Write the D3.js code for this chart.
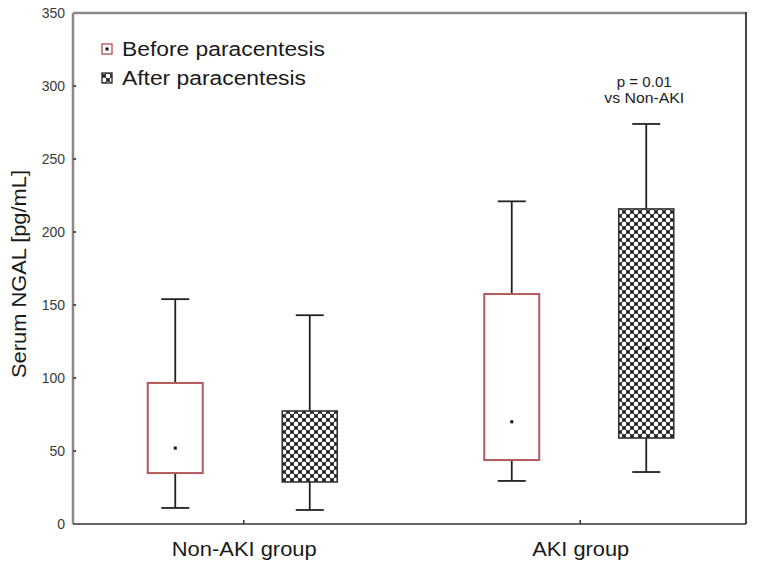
<!DOCTYPE html>
<html>
<head>
<meta charset="utf-8">
<script src="https://cdn.jsdelivr.net/npm/d3@7"></script>
<style>
  html, body { margin: 0; padding: 0; background: #fff; }
  svg { display: block; }
  text { font-family: "Liberation Sans", Arial, sans-serif; }
</style>
</head>
<body>
<svg id="chart" width="760" height="585"></svg>
<script>
// ---- data ----
const groups = ["Non-AKI group", "AKI group"];
const series = ["Before paracentesis", "After paracentesis"];
// [min, q1, median, q3, max]
const nonAkiBefore = [11, 34.9, 52, 96.6, 154];
const nonAkiAfter  = [9.6, 28.8, 46, 77.4, 143];
const akiBefore    = [29.5, 43.8, 70, 157.5, 221];
const akiAfter     = [35.6, 58.9, 120, 215.8, 274];
const yTicks = [0, 50, 100, 150, 200, 250, 300, 350];
const annotation = ["p = 0.01", "vs Non-AKI"];

const boxes = [
  { group: groups[0], series: 0, v: nonAkiBefore },
  { group: groups[0], series: 1, v: nonAkiAfter },
  { group: groups[1], series: 0, v: akiBefore },
  { group: groups[1], series: 1, v: akiAfter }
];

const svg = d3.select("#chart");
const L = 73, R = 746, T = 13, B = 524;

const x = d3.scalePoint().domain(groups).range([L + 2.5, R + 2.5]).padding(0.5);
const y = d3.scaleLinear().domain([0, 350]).range([B, T]);
const off = d3.scaleOrdinal().domain([0, 1]).range([-68.5, 66]);
const boxW = 55, capW = 28;
const redCol = "#b45a5c";
const fontFam = "Liberation Sans, Arial, sans-serif";

// pattern
const defs = svg.append("defs");
const pat = defs.append("pattern").attr("id", "hatch")
  .attr("patternUnits", "userSpaceOnUse").attr("width", 8).attr("height", 8);
pat.append("rect").attr("width", 8).attr("height", 8).attr("fill", "#1a1a1a");
[[0,0],[8,0],[0,8],[8,8],[4,4]].forEach(([cx, cy]) =>
  pat.append("circle").attr("cx", cx).attr("cy", cy).attr("r", 2.4).attr("fill", "#fff"));

// frame
svg.append("line").attr("x1", L).attr("x2", R).attr("y1", T).attr("y2", T)
  .attr("stroke", "#8c8888").attr("stroke-width", 2.5);
svg.append("line").attr("x1", L).attr("x2", L).attr("y1", T).attr("y2", B)
  .attr("stroke", "#8c8888").attr("stroke-width", 2.5);
svg.append("line").attr("x1", R).attr("x2", R).attr("y1", T - 1).attr("y2", B)
  .attr("stroke", "#444").attr("stroke-width", 2);

// y axis
const yAxis = d3.axisLeft(y).tickValues(yTicks).tickSize(0).tickPadding(8);
const gy = svg.append("g").attr("transform", `translate(${L},0)`).call(yAxis);
gy.select(".domain").remove();
gy.selectAll("text").attr("font-size", 14).attr("fill", "#3a3a3a")
  .attr("font-family", fontFam);
svg.selectAll(".ytick").data(yTicks.filter(d => d > 0 && d < 350)).enter()
  .append("line").attr("x1", L).attr("x2", L + 3)
  .attr("y1", d => y(d)).attr("y2", d => y(d))
  .attr("stroke", "#555").attr("stroke-width", 2);

// x axis
const xLabelLen = { "Non-AKI group": 145, "AKI group": 97 };
const xAxis = d3.axisBottom(x).tickSize(0).tickPadding(18);
const gx = svg.append("g").attr("transform", `translate(0,${B})`).call(xAxis);
gx.select(".domain").attr("stroke", "#333").attr("stroke-width", 1.6)
  .attr("d", `M${L},0H${R}`);
gx.selectAll("text").attr("font-size", 20).attr("fill", "#1a1a1a")
  .attr("font-family", fontFam)
  .attr("dy", "0.72em")
  .attr("textLength", d => xLabelLen[d])
  .attr("lengthAdjust", "spacingAndGlyphs");
svg.selectAll(".xtick").data(groups).enter().append("line")
  .attr("x1", d => x(d)).attr("x2", d => x(d)).attr("y1", B).attr("y2", B - 4)
  .attr("stroke", "#333").attr("stroke-width", 1.5);

// y label
svg.append("text")
  .attr("transform", `translate(26,274) rotate(-90)`)
  .attr("text-anchor", "middle").attr("font-size", 20).attr("fill", "#1a1a1a")
  .attr("textLength", 208).attr("lengthAdjust", "spacingAndGlyphs")
  .text("Serum NGAL [pg/mL]");

// boxes
const g = svg.append("g");
boxes.forEach(b => {
  const cx = x(b.group) + off(b.series);
  const [mn, q1, md, q3, mx] = b.v;
  const line = (x1, y1, x2, y2) => g.append("line")
    .attr("x1", x1).attr("x2", x2).attr("y1", y1).attr("y2", y2)
    .attr("stroke", "#222").attr("stroke-width", 1.8);
  line(cx, y(mx), cx, y(q3));
  line(cx, y(q1), cx, y(mn));
  line(cx - capW / 2, y(mx), cx + capW / 2, y(mx));
  line(cx - capW / 2, y(mn), cx + capW / 2, y(mn));
  g.append("rect")
    .attr("x", cx - boxW / 2).attr("y", y(q3))
    .attr("width", boxW).attr("height", y(q1) - y(q3))
    .attr("fill", b.series === 0 ? "#fff" : "url(#hatch)")
    .attr("stroke", b.series === 0 ? redCol : "#333")
    .attr("stroke-width", b.series === 0 ? 2 : 1.6);
  g.append("rect").attr("x", cx - 1.5).attr("y", y(md) - 1.5)
    .attr("width", 3).attr("height", 3).attr("fill", "#111");
});

// annotation
const annLen = [55, 80];
const ax = x(groups[1]) + off(1) - 2;
annotation.forEach((t, i) => {
  svg.append("text").attr("x", ax).attr("y", 87 + i * 16)
    .attr("text-anchor", "middle").attr("font-size", 14).attr("fill", "#222")
    .attr("textLength", annLen[i]).attr("lengthAdjust", "spacingAndGlyphs")
    .text(t);
});

// legend
const legLen = [203, 184];
const leg = svg.append("g");
series.forEach((s, i) => {
  const yy = 49 + i * 29;
  leg.append("rect").attr("x", 102).attr("y", yy - 5).attr("width", 10).attr("height", 10)
    .attr("fill", i === 0 ? "#fff" : "url(#hatch)")
    .attr("stroke", i === 0 ? redCol : "#333").attr("stroke-width", 1.4);
  if (i === 0) leg.append("rect").attr("x", 105.5).attr("y", yy - 1.5)
    .attr("width", 3).attr("height", 3).attr("fill", "#111");
  leg.append("text").attr("x", 122).attr("y", yy).attr("dy", "0.36em")
    .attr("font-size", 20).attr("fill", "#1a1a1a")
    .attr("textLength", legLen[i]).attr("lengthAdjust", "spacingAndGlyphs")
    .text(s);
});
</script>
</body>
</html>
